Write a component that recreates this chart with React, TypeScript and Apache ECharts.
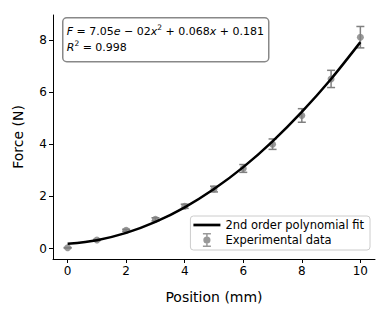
import React, { useEffect, useRef } from "react";
import * as echarts from "echarts";

const positions = [0, 1, 2, 3, 4, 5, 6, 7, 8, 9, 10];
const forces = [0.03, 0.33, 0.7, 1.12, 1.62, 2.28, 3.07, 4.0, 5.1, 6.5, 8.1];
const errors = [0.01, 0.02, 0.04, 0.06, 0.08, 0.11, 0.15, 0.2, 0.26, 0.33, 0.41];
const fitX = [0, 1, 2, 3, 4, 5, 6, 7, 8, 9, 10];
const fitY = [0.181, 0.32, 0.6, 1.02, 1.58, 2.28, 3.12, 4.11, 5.24, 6.5, 7.91];
const xTicks = [0, 2, 4, 6, 8, 10];
const yTicks = [0, 2, 4, 6, 8];

const FONT = "DejaVu Sans";
const GRAY = "#808080";

export default function App() {
  const ref = useRef<HTMLDivElement>(null);
  useEffect(() => {
    document.body.style.margin = "0";
    if (!ref.current) return;
    const chart = echarts.init(ref.current, undefined, { renderer: "svg" });
    const errData = positions.map((x, i) => [x, forces[i] - errors[i], forces[i] + errors[i]]);
    chart.setOption({
      animation: false,
      backgroundColor: "#ffffff",
      textStyle: { fontFamily: FONT },
      grid: { left: 53, right: 15, top: 15, bottom: 59 },
      xAxis: {
        type: "value",
        min: -0.5,
        max: 10.5,
        name: "Position (mm)",
        nameLocation: "middle",
        nameGap: 31,
        nameTextStyle: { fontFamily: FONT, fontSize: 14, color: "#000" },
        axisLine: { onZero: false, lineStyle: { color: "#000", width: 1 } },
        axisTick: { customValues: xTicks, length: 4, lineStyle: { color: "#000" } },
        axisLabel: { customValues: xTicks, fontFamily: FONT, fontSize: 12, color: "#000", margin: 6 },
        splitLine: { show: false },
      },
      yAxis: {
        type: "value",
        min: -0.4,
        max: 8.95,
        name: "Force (N)",
        nameLocation: "middle",
        nameGap: 28,
        nameTextStyle: { fontFamily: FONT, fontSize: 14, color: "#000" },
        axisLine: { show: true, onZero: false, lineStyle: { color: "#000", width: 1 } },
        axisTick: { show: true, customValues: yTicks, length: 4, lineStyle: { color: "#000" } },
        axisLabel: { customValues: yTicks, fontFamily: FONT, fontSize: 12, color: "#000", margin: 6 },
        splitLine: { show: false },
      },
      legend: {
        orient: "vertical",
        right: 20,
        top: 216,
        itemWidth: 27,
        itemHeight: 14,
        itemGap: 2,
        padding: [3, 6, 3, 3],
        borderColor: "#cccccc",
        borderWidth: 1,
        borderRadius: 3,
        backgroundColor: "rgba(255,255,255,0.8)",
        textStyle: { fontFamily: FONT, fontSize: 11.5, color: "#000" },
        data: [
          { name: "2nd order polynomial fit", icon: "path://M0,0H40V4H0Z" },
          {
            name: "Experimental data",
            icon:
              "path://M2,0H10V1.5H2Z M5.25,0H6.75V14H5.25Z M2,12.5H10V14H2Z M9.6,7A3.6,3.6 0 1 1 2.4,7A3.6,3.6 0 1 1 9.6,7Z",
          },
        ],
      },
      series: [
        {
          type: "custom",
          name: "errorbars",
          z: 2,
          renderItem: (params: any, api: any) => {
            const x = api.value(0);
            const p1 = api.coord([x, api.value(1)]);
            const p2 = api.coord([x, api.value(2)]);
            const cw = 4;
            const st = { stroke: GRAY, lineWidth: 1.5 };
            return {
              type: "group",
              children: [
                { type: "line", shape: { x1: p1[0], y1: p1[1], x2: p2[0], y2: p2[1] }, style: st },
                { type: "line", shape: { x1: p1[0] - cw, y1: p1[1], x2: p1[0] + cw, y2: p1[1] }, style: st },
                { type: "line", shape: { x1: p2[0] - cw, y1: p2[1], x2: p2[0] + cw, y2: p2[1] }, style: st },
              ],
            };
          },
          data: errData,
        },
        {
          type: "scatter",
          name: "Experimental data",
          z: 3,
          symbol: "circle",
          symbolSize: 7,
          itemStyle: { color: GRAY },
          data: positions.map((x, i) => [x, forces[i]]),
        },
        {
          type: "line",
          name: "2nd order polynomial fit",
          z: 4,
          smooth: 0.3,
          showSymbol: false,
          symbol: "none",
          lineStyle: { color: "#000", width: 2.5 },
          itemStyle: { color: "#000" },
          data: fitX.map((x, i) => [x, fitY[i]]),
        },
      ],
      graphic: [
        {
          type: "group",
          left: 62,
          top: 17,
          z: 100,
          children: [
            {
              type: "rect",
              shape: { x: 0, y: 0, width: 206, height: 44, r: 4 },
              style: { fill: "rgba(255,255,255,0.9)", stroke: "#888888", lineWidth: 1.5 },
            },
            {
              type: "text",
              x: 4,
              y: 6,
              style: {
                text: "{i|F} = 7.05{i|e} − 02{i|x}{s|2} + 0.068{i|x} + 0.181\n{i|R}{s|2} = 0.998",
                fontFamily: FONT,
                fontSize: 11,
                lineHeight: 16,
                fill: "#000",
                rich: {
                  i: { fontFamily: FONT, fontStyle: "italic", fontSize: 11, fill: "#000" },
                  s: { fontFamily: FONT, fontSize: 7.5, fill: "#000", verticalAlign: "top", padding: [0, 0, 6, 0] },
                },
              },
            },
          ],
        },
      ],
    });
    return () => chart.dispose();
  }, []);
  return <div ref={ref} style={{ width: 390, height: 318 }} />;
}
